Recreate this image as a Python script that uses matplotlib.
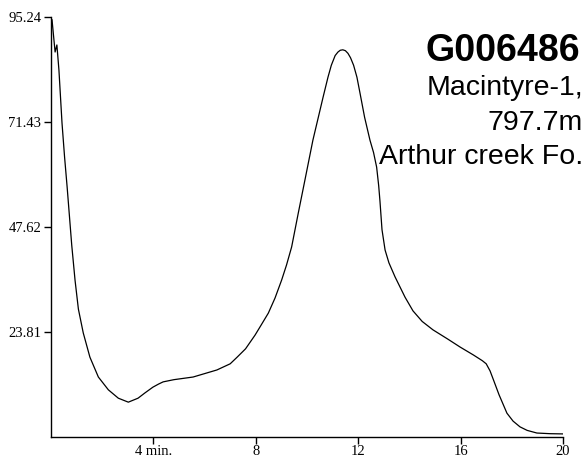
import matplotlib
matplotlib.use("Agg")
import matplotlib.pyplot as plt

# Data
time_min = [0.04, 0.16, 0.23, 0.31, 0.43, 0.53, 0.63, 0.81, 0.94, 1.07, 1.26, 1.52,
            1.85, 2.24, 2.63, 3.02, 3.4, 3.67, 3.98, 4.2, 4.38, 4.8,
            5.55, 6.48, 7.0, 7.27, 7.6, 7.97, 8.2, 8.49, 8.75, 9.01, 9.2,
            9.4, 9.66, 9.92, 10.23, 10.63, 10.82, 10.95, 11.1, 11.21, 11.3, 11.4,
            11.5, 11.6, 11.7, 11.82, 11.95, 12.07, 12.25, 12.46, 12.6, 12.72,
            12.8, 12.85, 12.93, 13.05, 13.2, 13.44, 13.83, 14.14, 14.5, 14.92,
            15.5, 15.98, 16.5, 16.85, 17.0, 17.15, 17.3, 17.5, 17.81, 18.05,
            18.32, 18.6, 18.98, 19.5, 20.0]
signal = [94.6, 87.3, 88.9, 83.2, 71.2, 63.5, 56.7, 43.5, 35.5, 29.0, 23.6, 18.1,
          13.6, 10.7, 8.8, 7.9, 8.8, 10.0, 11.3, 12.0, 12.5, 13.0,
          13.6, 15.2, 16.6, 18.1, 20.0, 23.1, 25.3, 28.1, 31.5, 35.6, 39.0,
          43.1, 50.8, 58.3, 67.3, 77.1, 81.6, 84.3, 86.5, 87.3, 87.7, 87.8,
          87.6, 87.0, 86.0, 84.3, 81.6, 78.0, 72.5, 67.3, 64.5, 61.2,
          57.0, 53.5, 47.0, 42.4, 39.5, 36.3, 31.7, 28.6, 26.2, 24.3,
          22.2, 20.4, 18.6, 17.3, 16.6, 15.0, 12.7, 9.6, 5.4, 3.6,
          2.3, 1.5, 0.9, 0.75, 0.7]

x_ticks = [4, 8, 12, 16, 20]
x_tick_labels = ["4 min.", "8", "12", "16", "20"]
y_ticks = [23.81, 47.62, 71.43, 95.24]
y_tick_labels = ["23.81", "47.62", "71.43", "95.24"]

title = "G006486"
subtitle_lines = ["Macintyre-1,", "797.7m", "Arthur creek Fo."]

fig = plt.figure(figsize=(5.88, 4.63), dpi=100)
ax = fig.add_axes([51/588, 26/463, 512/588, 420/463])
ax.plot(time_min, signal, color="black", lw=0.9, solid_joinstyle="round")
ax.set_xlim(0, 20)
ax.set_ylim(0, 95.24)

for s in ["top", "right"]:
    ax.spines[s].set_visible(False)
for s in ["left", "bottom"]:
    ax.spines[s].set_linewidth(1.0)

serif = "Liberation Serif"
ax.set_xticks(x_ticks)
ax.set_xticklabels(x_tick_labels, family=serif, fontsize=10.5)
ax.set_yticks(y_ticks)
ax.set_yticklabels(y_tick_labels, family=serif, fontsize=10.5)
ax.tick_params(axis="x", length=5, width=1, pad=1)
ax.tick_params(axis="y", length=5, width=1, pad=2)

sans = "Liberation Sans"
fig.text(580/588, 1 - 61/463, title, ha="right", va="baseline",
         family=sans, fontsize=27, fontweight="bold")
baselines = [95, 130, 164]
for line, yb in zip(subtitle_lines, baselines):
    fig.text(583/588, 1 - yb/463, line, ha="right", va="baseline",
             family=sans, fontsize=20.5)

fig.savefig("out.png", dpi=100)
